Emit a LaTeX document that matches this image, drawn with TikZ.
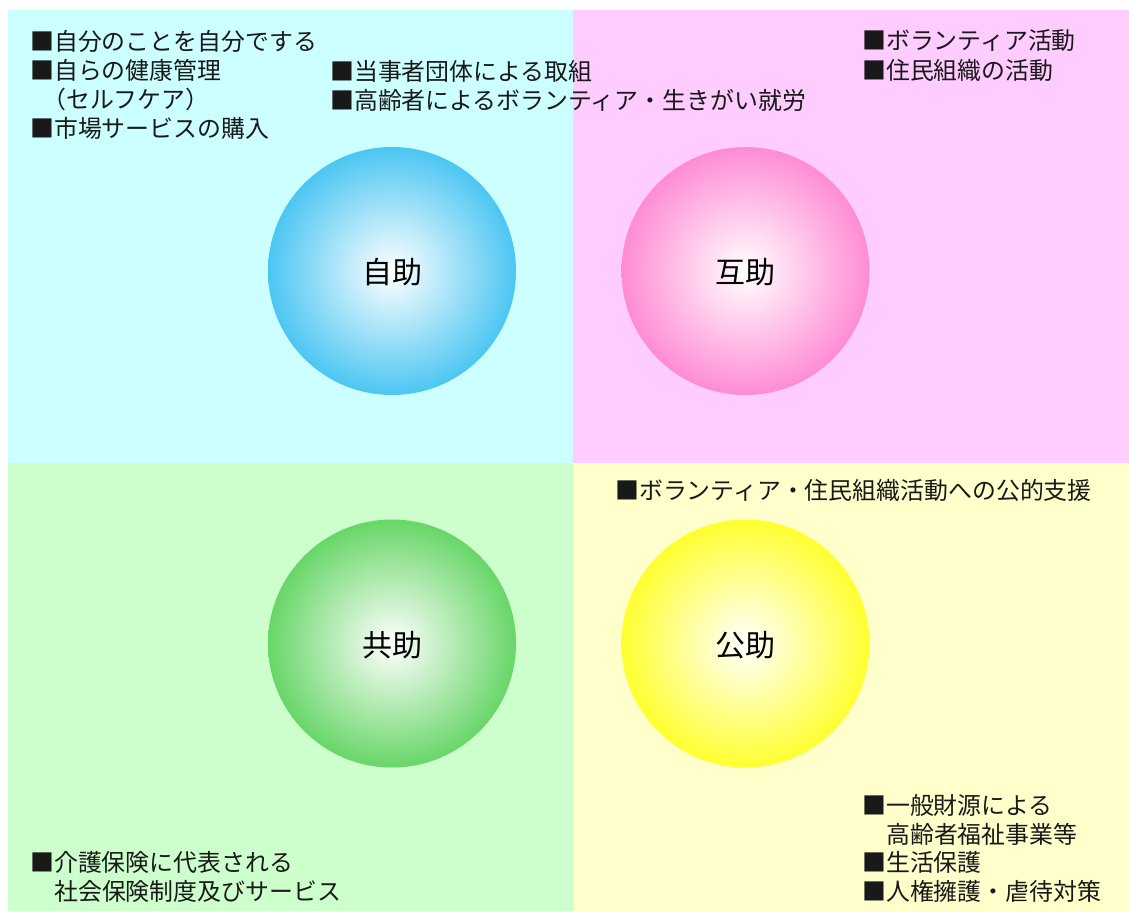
\documentclass[tikz,border=0pt]{standalone}
\usepackage{fontspec}
\newfontfamily\jpfont{Noto Sans CJK JP}
\definecolor{bgcyan}{HTML}{CCFFFF}
\definecolor{bgpink}{HTML}{FFCCFF}
\definecolor{bggreen}{HTML}{CCFFCC}
\definecolor{bgyellow}{HTML}{FFFFCC}
\definecolor{cblue}{HTML}{4CC6F2}
\definecolor{cpink}{HTML}{FF8CD4}
\definecolor{cgreen}{HTML}{68D668}
\definecolor{cyellow}{HTML}{FFFF30}
\begin{document}
\begin{tikzpicture}[x=1pt,y=-1pt,
  item/.style={anchor=west,inner sep=0pt,font=\jpfont\fontsize{23.9}{28}\selectfont,text=black!90},
  ball/.style={circle,minimum size=248pt,inner sep=0pt,font=\jpfont\fontsize{30}{34}\selectfont}]
\useasboundingbox (0,0) rectangle (1129,911);
\fill[white] (0,0) rectangle (1129,911);
\fill[bgcyan] (8,10) rectangle (573,463);
\fill[bgpink] (573,10) rectangle (1129,463);
\fill[bggreen] (8,463) rectangle (573,911);
\fill[bgyellow] (573,463) rectangle (1129,911);
% circles
\shade[inner color=white,outer color=cblue] (392,271) circle (124);
\shade[inner color=white,outer color=cpink] (745.5,271) circle (124);
\shade[inner color=white,outer color=cgreen] (392,643.5) circle (124);
\shade[inner color=white,outer color=cyellow] (745.5,643.5) circle (124);
\node[ball] (jijo) at (392,272) {自助};
\node[ball] (gojo) at (745.5,272) {互助};
\node[ball] (kyojo) at (392,645) {共助};
\node[ball] (kojo) at (745.5,645) {公助};
% top-left
\node[item] (a1) at (30,41) {■自分のことを自分でする};
\node[item] (a2) at (30,70) {■自らの健康管理};
\node[item] (a3) at (42,99) {（セルフケア）};
\node[item] (a4) at (30,128) {■市場サービスの購入};
% top-middle
\node[item] (b1) at (330,71) {■当事者団体による取組};
\node[item] (b2) at (330,100) {■高齢者によるボランティア・生きがい就労};
% top-right
\node[item] (c1) at (862,41) {■ボランティア活動};
\node[item] (c2) at (862,70) {■住民組織の活動};
% bottom-right top
\node[item] (d1) at (615,490) {■ボランティア・住民組織活動への公的支援};
% bottom-left
\node[item] (e1) at (30,862) {■介護保険に代表される};
\node[item] (e2) at (54,891) {社会保険制度及びサービス};
% bottom-right
\node[item] (f1) at (862,805) {■一般財源による};
\node[item] (f2) at (886,834) {高齢者福祉事業等};
\node[item] (f3) at (862,862) {■生活保護};
\node[item] (f4) at (862,891) {■人権擁護・虐待対策};
\end{tikzpicture}
\end{document}
